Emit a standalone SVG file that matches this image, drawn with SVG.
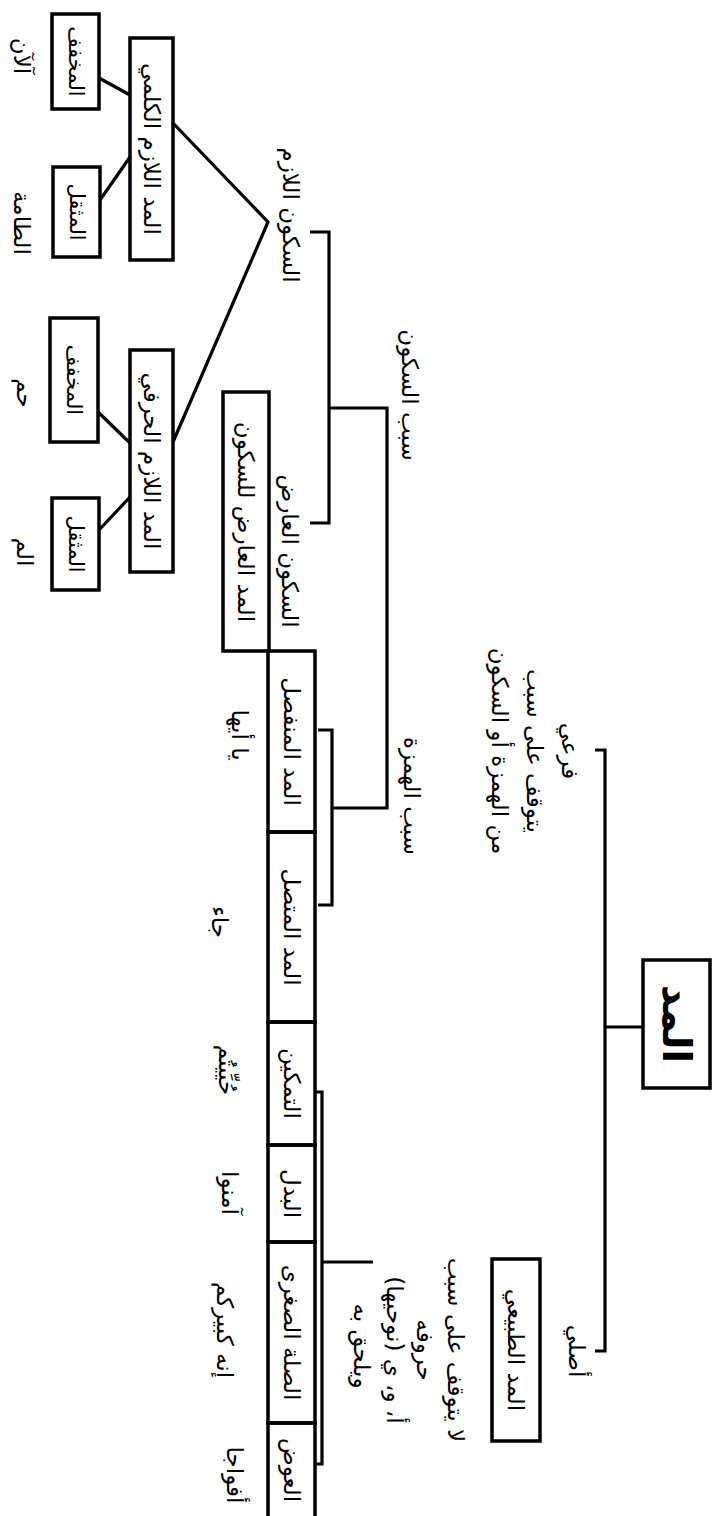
<svg xmlns="http://www.w3.org/2000/svg" width="717" height="1516" viewBox="0 0 717 1516">
<style>
.box{fill:none;stroke:#000;stroke-width:3.5}
.ln{fill:none;stroke:#000;stroke-width:3.2;stroke-linejoin:miter}
.t{font-family:"DejaVu Sans",sans-serif;font-size:23px;fill:#000;text-anchor:middle;dominant-baseline:central}
.s{font-size:21px}
.root{font-size:40px;font-weight:bold}
</style>
<rect width="717" height="1516" fill="#fff"/>
<g id="connectors">
<path class="ln" d="M643,1027H605"/>
<path class="ln" d="M595,750H605V1351H595"/>
<path class="ln" d="M310,232H329V523H310"/>
<path class="ln" d="M329,408H387V808H332"/>
<path class="ln" d="M318,730H332V905H318"/>
<path class="ln" d="M315,1092H322V1464H315"/>
<path class="ln" d="M322,1262H373"/>
<path class="ln" d="M172,122L268,222L173,442"/>
<path class="ln" d="M99,78L130,95"/>
<path class="ln" d="M100,200L130,157"/>
<path class="ln" d="M98,412L130,443"/>
<path class="ln" d="M99,530L130,497"/>
</g>
<g id="root"><rect class="box" x="643" y="960" width="67" height="128"/><text class="t root" x="677" y="1024" transform="rotate(90 677 1024)">المد</text></g>
<g id="asli-label"><text class="t" x="577" y="1351" transform="rotate(90 577 1351)">أصلي</text></g>
<g id="farei-label">
<text class="t" x="570" y="751" transform="rotate(90 570 751)">فرعي</text>
<text class="t" x="535" y="751" transform="rotate(90 535 751)">يتوقف على سبب</text>
<text class="t" x="500" y="751" transform="rotate(90 500 751)">من الهمزة أو السكون</text>
</g>
<g id="tabii"><rect class="box" x="492" y="1259" width="48" height="182"/><text class="t" x="516" y="1350" transform="rotate(90 516 1350)">المد الطبيعي</text></g>
<g id="asli-desc">
<text class="t" x="456" y="1350" transform="rotate(90 456 1350)">لا يتوقف على سبب</text>
<text class="t" x="425" y="1350" transform="rotate(90 425 1350)">حروفه</text>
<text class="t" x="395" y="1350" transform="rotate(90 395 1350)">أ، و، ي (نوحيها)</text>
<text class="t" x="362" y="1346" transform="rotate(90 362 1346)">ويلحق به</text>
</g>
<g id="sabab-sukun"><text class="t" x="410" y="395" transform="rotate(90 410 395)">سبب السكون</text></g>
<g id="sabab-hamza"><text class="t" x="412" y="796" transform="rotate(90 412 796)">سبب الهمزة</text></g>
<g id="sukun-lazim"><text class="t" x="291" y="215" transform="rotate(90 291 215)">السكون اللازم</text></g>
<g id="sukun-arid"><text class="t" x="290" y="551" transform="rotate(90 290 551)">السكون العارض</text></g>
<g id="arid"><rect class="box" x="223" y="392" width="46" height="259"/><text class="t" x="246" y="522" transform="rotate(90 246 522)">المد العارض للسكون</text></g>
<g id="munfasil"><rect class="box" x="268" y="651" width="47" height="181"/><text class="t" x="291.5" y="741.5" transform="rotate(90 291.5 741.5)">المد المنفصل</text><text class="t" x="240" y="735" transform="rotate(90 240 735)">يا أيها</text></g>
<g id="muttasil"><rect class="box" x="268" y="832" width="47" height="190"/><text class="t" x="291.5" y="927" transform="rotate(90 291.5 927)">المد المتصل</text><text class="t" x="220" y="922" transform="rotate(90 220 922)">جاء</text></g>
<g id="tamkin"><rect class="box" x="268" y="1022" width="47" height="123"/><text class="t" x="291.5" y="1083.5" transform="rotate(90 291.5 1083.5)">التمكين</text><text class="t" x="227" y="1070" transform="rotate(90 227 1070)">حُيِّيتُم</text></g>
<g id="badal"><rect class="box" x="268" y="1145" width="47" height="97"/><text class="t" x="291.5" y="1193.5" transform="rotate(90 291.5 1193.5)">البدل</text><text class="t" x="230" y="1193" transform="rotate(90 230 1193)">آمنوا</text></g>
<g id="sila"><rect class="box" x="268" y="1242" width="47" height="181"/><text class="t" x="291.5" y="1332.5" transform="rotate(90 291.5 1332.5)">الصلة الصغرى</text><text class="t" x="225" y="1330" transform="rotate(90 225 1330)">إنه كبيركم</text></g>
<g id="iwad"><rect class="box" x="268" y="1423" width="47" height="110"/><text class="t" x="291.5" y="1470" transform="rotate(90 291.5 1470)">العوض</text><text class="t" x="235" y="1475" transform="rotate(90 235 1475)">أفواجا</text></g>
<g id="kalimi"><rect class="box" x="130" y="38" width="43" height="222"/><text class="t" x="151.5" y="149" transform="rotate(90 151.5 149)">المد اللازم الكلمي</text></g>
<g id="harfi"><rect class="box" x="130" y="350" width="43" height="222"/><text class="t" x="151.5" y="461" transform="rotate(90 151.5 461)">المد اللازم الحرفي</text></g>
<g id="kalimi-mukhaffaf"><rect class="box" x="52" y="14" width="47" height="95"/><text class="t s" x="75.5" y="61.5" transform="rotate(90 75.5 61.5)">المخفف</text><text class="t" x="22" y="56" transform="rotate(90 22 56)">آلآن</text></g>
<g id="kalimi-muthaqqal"><rect class="box" x="53" y="167" width="47" height="90"/><text class="t s" x="76.5" y="212" transform="rotate(90 76.5 212)">المثقل</text><text class="t" x="22" y="223" transform="rotate(90 22 223)">الطامة</text></g>
<g id="harfi-mukhaffaf"><rect class="box" x="50" y="318" width="48" height="124"/><text class="t s" x="74" y="380" transform="rotate(90 74 380)">المخفف</text><text class="t" x="25" y="393" transform="rotate(90 25 393)">حم</text></g>
<g id="harfi-muthaqqal"><rect class="box" x="52" y="498" width="47" height="92"/><text class="t s" x="75.5" y="544" transform="rotate(90 75.5 544)">المثقل</text><text class="t" x="25" y="552" transform="rotate(90 25 552)">الم</text></g>
</svg>
